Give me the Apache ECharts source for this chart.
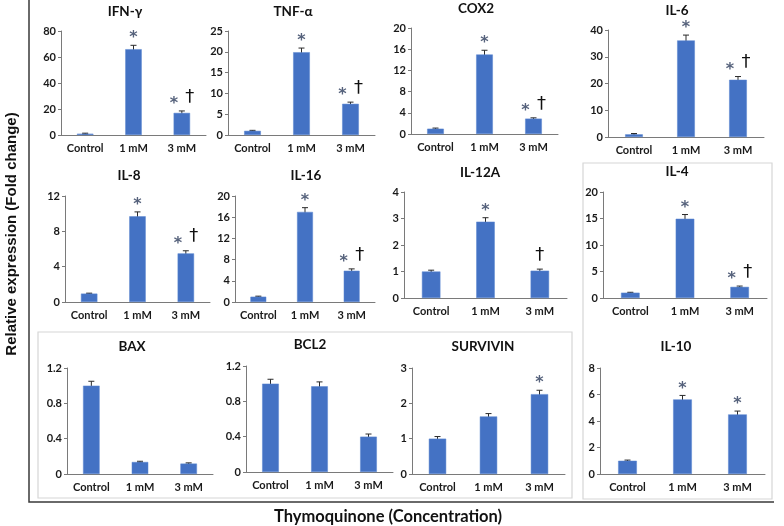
<!DOCTYPE html>
<html><head><meta charset="utf-8">
<script src="https://cdn.jsdelivr.net/npm/echarts@6/dist/echarts.min.js"></script>
<style>html,body{margin:0;padding:0;background:#fff}#c{width:784px;height:526px}</style>
</head><body><div id="c"></div>
<script>
const categories = ['Control', '1 mM', '3 mM'];

const ifng = [1, 66, 17];          const ifngErr = [0.4, 3, 1.5];       const ifngSig = ['', '*', '*†'];
const tnfa = [1, 19.9, 7.5];       const tnfaErr = [0.12, 1, 0.4];      const tnfaSig = ['', '*', '*†'];
const cox2 = [1, 15, 2.9];         const cox2Err = [0.12, 0.8, 0.15];   const cox2Sig = ['', '*', '*†'];
const il6 = [1, 36.1, 21.4];       const il6Err = [0.3, 2, 1.2];        const il6Sig = ['', '*', '*†'];
const il8 = [0.95, 9.7, 5.5];      const il8Err = [0.05, 0.5, 0.3];     const il8Sig = ['', '*', '*†'];
const il16 = [1, 17, 5.9];         const il16Err = [0.1, 0.8, 0.35];    const il16Sig = ['', '*', '*†'];
const il12a = [1, 2.88, 1.03];     const il12aErr = [0.05, 0.15, 0.06]; const il12aSig = ['', '*', '†'];
const il4 = [1, 14.95, 2.1];       const il4Err = [0.08, 0.8, 0.15];    const il4Sig = ['', '*', '*†'];
const bax = [1, 0.136, 0.118];     const baxErr = [0.05, 0.008, 0.008]; const baxSig = ['', '', ''];
const bcl2 = [1, 0.97, 0.4];       const bcl2Err = [0.05, 0.05, 0.03];  const bcl2Sig = ['', '', ''];
const survivin = [1, 1.63, 2.26];  const survivinErr = [0.06, 0.08, 0.11]; const survivinSig = ['', '', '*'];
const il10 = [1, 5.63, 4.5];       const il10Err = [0.05, 0.3, 0.25];   const il10Sig = ['', '*', '*'];

const panels = [
  {name: 'IFN-γ', v: ifng, e: ifngErr, s: ifngSig, max: 80, step: 20, g: [61, 31, 145, 104], t: [125, 5]},
  {name: 'TNF-α', v: tnfa, e: tnfaErr, s: tnfaSig, max: 25, step: 5, g: [228, 31, 147, 104], t: [293, 5]},
  {name: 'COX2', v: cox2, e: cox2Err, s: cox2Sig, max: 20, step: 4, g: [411, 28, 147, 106], t: [476, 2]},
  {name: 'IL-6', v: il6, e: il6Err, s: il6Sig, max: 40, step: 10, g: [608, 30, 156, 107], t: [677, 4]},
  {name: 'IL-8', v: il8, e: il8Err, s: il8Sig, max: 12, step: 4, g: [65, 196, 145, 106], t: [129, 169]},
  {name: 'IL-16', v: il16, e: il16Err, s: il16Sig, max: 20, step: 4, g: [235, 196, 140, 106], t: [306, 169]},
  {name: 'IL-12A', v: il12a, e: il12aErr, s: il12aSig, max: 4, step: 1, g: [404, 192, 163, 106], t: [480, 166]},
  {name: 'IL-4', v: il4, e: il4Err, s: il4Sig, max: 20, step: 5, g: [603, 192, 164, 106], t: [677, 165]},
  {name: 'BAX', v: bax, e: baxErr, s: baxSig, max: 1.2, step: 0.4, g: [67, 368, 146, 106], t: [132, 340]},
  {name: 'BCL2', v: bcl2, e: bcl2Err, s: bcl2Sig, max: 1.2, step: 0.4, g: [246, 366, 147, 106], t: [310, 338]},
  {name: 'SURVIVIN', v: survivin, e: survivinErr, s: survivinSig, max: 3, step: 1, g: [412, 368, 153, 106], t: [483, 340]},
  {name: 'IL-10', v: il10, e: il10Err, s: il10Sig, max: 8, step: 2, g: [600, 368, 165, 106], t: [676, 340]}
];

const FONT = 'Lato';
const grid = [], xAxis = [], yAxis = [], series = [], title = [];

panels.forEach((p, i) => {
  grid.push({left: p.g[0], top: p.g[1], width: p.g[2], height: p.g[3], containLabel: false});
  title.push({text: p.name, left: p.t[0], top: p.t[1], textAlign: 'center', padding: 0,
    textStyle: {fontFamily: FONT, fontWeight: 'bold', fontSize: 13.5, color: '#111'}});
  xAxis.push({type: 'category', gridIndex: i, data: categories,
    axisLine: {lineStyle: {color: '#7a7a7a', width: 1}}, axisTick: {show: false},
    axisLabel: {interval: 0, fontFamily: FONT, fontWeight: 'bold', fontSize: 11, color: '#1a1a1a', margin: 8}});
  yAxis.push({type: 'value', gridIndex: i, min: 0, max: p.max, interval: p.step,
    splitLine: {show: false},
    axisLine: {show: true, lineStyle: {color: '#7a7a7a', width: 1}},
    axisTick: {show: true, length: 3, lineStyle: {color: '#7a7a7a'}},
    axisLabel: {fontFamily: FONT, fontWeight: 'bold', fontSize: 11, color: '#1a1a1a', margin: 5}});
  series.push({type: 'bar', xAxisIndex: i, yAxisIndex: i, data: p.v, barWidth: '34%',
    itemStyle: {color: '#4472C4', borderColor: '#5b86d0', borderWidth: 0.5}, silent: true, animation: false});
  const sig = p.s;
  series.push({type: 'custom', xAxisIndex: i, yAxisIndex: i, animation: false, silent: true,
    data: p.v.map((val, k) => [k, val, p.e[k]]),
    renderItem: (params, api) => {
      const x = api.value(0), v = api.value(1), e = api.value(2);
      const top = api.coord([x, v + e]);
      const bot = api.coord([x, Math.max(v - e, 0)]);
      const cap = 3;
      const ls = {stroke: '#2a2a2a', lineWidth: 1};
      const children = [
        {type: 'line', shape: {x1: top[0], y1: top[1], x2: bot[0], y2: bot[1]}, style: ls},
        {type: 'line', shape: {x1: top[0] - cap, y1: top[1], x2: top[0] + cap, y2: top[1]}, style: ls},
        {type: 'line', shape: {x1: bot[0] - cap, y1: bot[1], x2: bot[0] + cap, y2: bot[1]}, style: ls}
      ];
      const s = sig[params.dataIndex];
      if (s) {
        const chars = Array.from(s);
        const spacing = 16;
        chars.forEach((ch, k) => {
          const cx = top[0] + (k - (chars.length - 1) / 2) * spacing;
          if (ch === '*') {
            children.push({type: 'text', style: {text: '*', x: cx, y: top[1] - 7,
              align: 'center', verticalAlign: 'middle',
              font: 'bold 16px "DejaVu Sans"', fill: '#56627c'}});
          } else {
            children.push({type: 'text', style: {text: '†', x: cx, y: top[1] - 14,
              align: 'center', verticalAlign: 'middle',
              font: '18px "DejaVu Sans"', fill: '#111'}});
          }
        });
      }
      return {type: 'group', children};
    }});
});

const chart = echarts.init(document.getElementById('c'), null, {renderer: 'canvas'});
chart.setOption({
  animation: false,
  backgroundColor: '#fff',
  title, grid, xAxis, yAxis, series,
  graphic: [
    {type: 'rect', shape: {x: 38, y: 332, width: 534, height: 166}, style: {fill: 'none', stroke: '#d6d6d6', lineWidth: 1.2}, z: 0},
    {type: 'rect', shape: {x: 583, y: 163, width: 189, height: 336}, style: {fill: 'none', stroke: '#d6d6d6', lineWidth: 1.2}, z: 0},
    {type: 'polyline', shape: {points: [[29, 0], [29, 502], [774, 502]]}, style: {fill: 'none', stroke: '#3a3a3a', lineWidth: 1.5}},
    {type: 'text', x: 12, y: 234, rotation: Math.PI / 2, style: {text: 'Relative expression (Fold change)', fontFamily: 'Liberation Sans', fontWeight: 'bold', fontSize: 15, fill: '#111', align: 'center', verticalAlign: 'middle'}},
    {type: 'text', x: 388, y: 517, style: {text: 'Thymoquinone (Concentration)', fontFamily: FONT, fontWeight: 'bold', fontSize: 16.5, fill: '#111', align: 'center', verticalAlign: 'middle'}}
  ]
});
</script></body></html>
